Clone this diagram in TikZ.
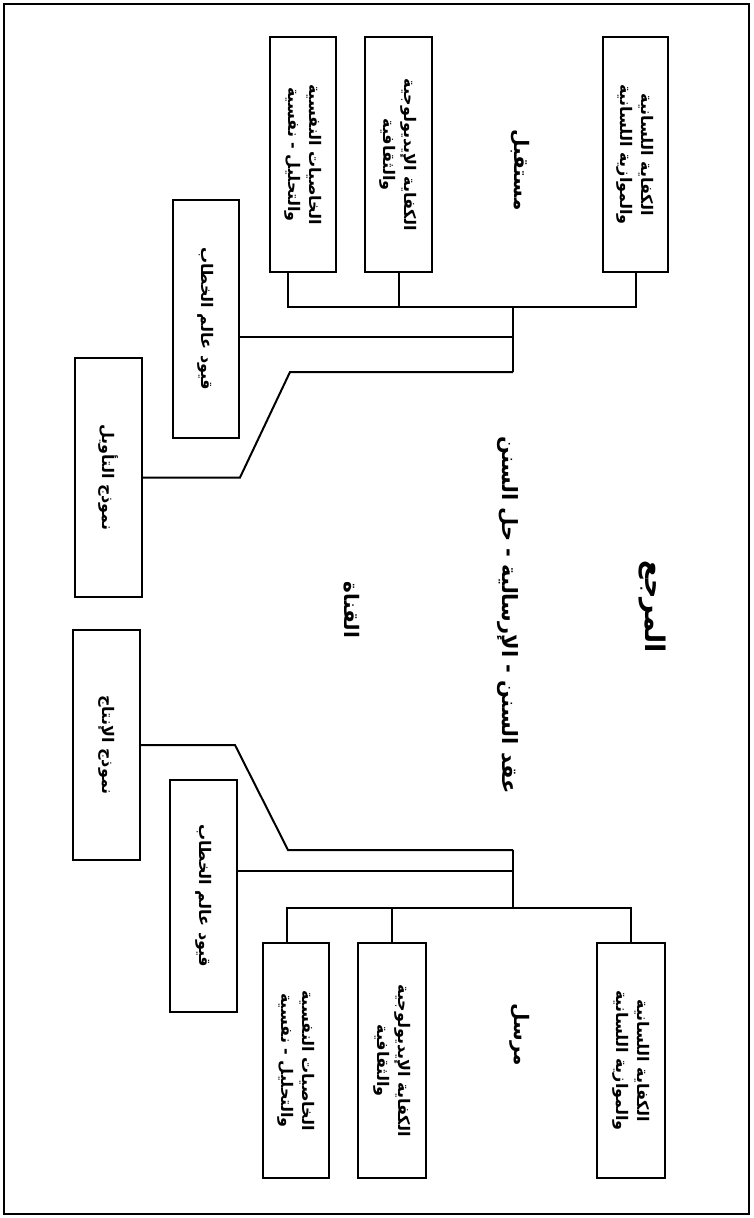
\documentclass[tikz,border=0pt]{standalone}
\usepackage{fontspec}
\usepackage{graphicx}
\newfontfamily\ar[Script=Arabic]{DejaVu Sans}
\TeXXeTstate=1
\newcommand{\RL}[1]{\beginR #1\endR}
\newcommand{\twol}[2]{\rotatebox{-90}{\begin{tabular}{@{}c@{}}\RL{#1}\\[0pt]\RL{#2}\end{tabular}}}
\newcommand{\onel}[1]{\rotatebox{-90}{\RL{#1}}}
\begin{document}
\begin{tikzpicture}[x=1pt,y=-1pt,line width=2pt,
  box/.style={draw,line width=2.2pt,inner sep=0pt,font=\ar\bfseries\fontsize{16}{21}\selectfont},
  lbl/.style={inner sep=0pt,rotate=-90,font=\ar\bfseries\fontsize{20}{24}\selectfont}]
\useasboundingbox (0,0) rectangle (753,1218);
\draw[line width=1.6pt] (4,4) rectangle (749,1214);

% receiver side (top)
\node[box,minimum width=65pt,minimum height=235pt] (a1) at (635.5,154.5) {\twol{الكفاية اللسانية}{والموازية اللسانية}};
\node[box,minimum width=67pt,minimum height=235pt] (a2) at (398.5,154.5) {\twol{الكفاية الإيديولوجية}{والثقافية}};
\node[box,minimum width=66pt,minimum height=235pt] (a3) at (303,154.5) {\twol{الخاصيات النفسية}{والتحليل - نفسية}};
\node[box,minimum width=66pt,minimum height=238pt] (a4) at (206,319) {\onel{قيود عالم الخطاب}};
\node[box,minimum width=67pt,minimum height=239pt] (a5) at (108.5,477.5) {\onel{نموذج التأويل}};

\coordinate (tbus) at (513,307);
\coordinate (tfour) at (513,337);
\coordinate (tdiag) at (513,372);
\coordinate (tda) at (240,477.5);
\coordinate (tdb) at (290,372);
\coordinate (a3c) at ([xshift=-15pt]a3.south);

\draw (a3c) -- (a3c |- tbus) -- (a1.south |- tbus) -- (a1.south);
\draw (a2.south) -- (a2.south |- tbus);
\draw (tbus) -- (tdiag);
\draw (a4.east |- tfour) -- (tfour);
\draw (a5.east) -- (tda) -- (tdb) -- (tdiag);

% sender side (bottom)
\node[box,minimum width=68pt,minimum height=235pt] (b1) at (631,1060.5) {\twol{الكفاية اللسانية}{والموازية اللسانية}};
\node[box,minimum width=68pt,minimum height=235pt] (b2) at (392,1060.5) {\twol{الكفاية الإيديولوجية}{والثقافية}};
\node[box,minimum width=66pt,minimum height=235pt] (b3) at (296,1060.5) {\twol{الخاصيات النفسية}{والتحليل - نفسية}};
\node[box,minimum width=67pt,minimum height=232pt] (b4) at (203.5,896) {\onel{قيود عالم الخطاب}};
\node[box,minimum width=67pt,minimum height=230pt] (b5) at (106.5,745) {\onel{نموذج الإنتاج}};

\coordinate (bbus) at (513,908);
\coordinate (bfour) at (513,871);
\coordinate (bdiag) at (513,850);
\coordinate (bda) at (235,745);
\coordinate (bdb) at (288,850);
\coordinate (b3c) at ([xshift=-9pt]b3.north);

\draw (b3c) -- (b3c |- bbus) -- (b1.north |- bbus) -- (b1.north);
\draw (b2.north) -- (b2.north |- bbus);
\draw (bbus) -- (bdiag);
\draw (b4.east |- bfour) -- (bfour);
\draw (b5.east) -- (bda) -- (bdb) -- (bdiag);

% labels
\node[lbl] (recv) at (520,170) {\RL{مستقبل}};
\node[lbl] (send) at (520,1035) {\RL{مرسل}};
\node[lbl,font=\ar\bfseries\fontsize{21}{25}\selectfont] (msg) at (508,615) {\RL{عقد السنن - الإرسالية - حل السنن}};
\node[lbl] (chan) at (352,610) {\RL{القناة}};
\node[lbl,font=\ar\bfseries\fontsize{27}{31}\selectfont] (ref) at (652,607) {\RL{المرجع}};
\end{tikzpicture}
\end{document}
